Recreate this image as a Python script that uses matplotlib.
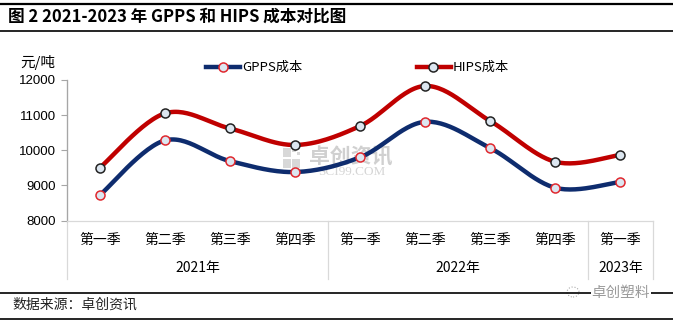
import numpy as np
import matplotlib
matplotlib.use("Agg")
import matplotlib.pyplot as plt
from matplotlib.lines import Line2D
from matplotlib.transforms import blended_transform_factory

plt.rcParams['font.family'] = ['Noto Sans CJK SC', 'DejaVu Sans']

# ---- data ----
quarters = ["第一季", "第二季", "第三季", "第四季",
            "第一季", "第二季", "第三季", "第四季", "第一季"]
years = ["2021年", "2022年", "2023年"]
year_spans = [4, 4, 1]
gpps_cost = [8720, 10280, 9690, 9380, 9800, 10810, 10060, 8930, 9100]
hips_cost = [9500, 11050, 10620, 10150, 10690, 11830, 10830, 9670, 9870]

W, H = 673, 322
fig = plt.figure(figsize=(W / 100, H / 100), dpi=100)
fig.patch.set_facecolor("white")

def fx(px):
    return px / W

def fy(py):
    return 1 - py / H

ax = fig.add_axes([fx(67.3), fy(220.5), fx(653) - fx(67.3), fy(80) - fy(220.5)])
ax.set_zorder(2)
ax.patch.set_alpha(0)
ax.set_xlim(-0.5, len(quarters) - 0.5)
ax.set_ylim(8000, 12000)


def smooth(xs, ys, sx=65.0, sy=0.035, n=30):
    """Catmull-Rom style Bezier smoothing computed in screen-like units."""
    P = np.column_stack([np.asarray(xs, float) * sx, np.asarray(ys, float) * sy])
    out = []
    for i in range(len(P) - 1):
        p0 = P[i - 1] if i > 0 else P[i]
        p1, p2 = P[i], P[i + 1]
        p3 = P[i + 2] if i + 2 < len(P) else P[i + 1]
        c1 = p1 + (p2 - p0) / 6.0
        c2 = p2 - (p3 - p1) / 6.0
        t = np.linspace(0, 1, n)[:, None]
        seg = ((1 - t) ** 3) * p1 + 3 * ((1 - t) ** 2) * t * c1 + 3 * (1 - t) * t ** 2 * c2 + t ** 3 * p2
        out.append(seg if i == 0 else seg[1:])
    pts = np.vstack(out)
    return pts[:, 0] / sx, pts[:, 1] / sy


x = np.arange(len(quarters))
gpps_color = "#0E2C6E"
hips_color = "#C00000"
marker_face = "#DCE6F0"

for vals, col, edge in [(hips_cost, hips_color, "#222222"), (gpps_cost, gpps_color, "#E0282E")]:
    sxv, syv = smooth(x, vals)
    ax.plot(sxv, syv, color=col, lw=3.2, solid_capstyle="round", zorder=3)
    ax.plot(x, vals, ls="none", marker="o", ms=6.5, mfc=marker_face, mec=edge, mew=1.1, zorder=4)

# axes styling
for s in ["top", "right"]:
    ax.spines[s].set_visible(False)
ax.spines["left"].set_color("#A6A6A6")
ax.spines["bottom"].set_color("#D9D9D9")
ax.spines["left"].set_linewidth(0.9)
ax.spines["bottom"].set_linewidth(0.9)
ax.set_yticks([8000, 9000, 10000, 11000, 12000])
ax.set_yticklabels(["8000", "9000", "10000", "11000", "12000"])
ax.tick_params(axis="y", direction="out", length=4, color="#A6A6A6", labelsize=9.5, pad=4)
ax.set_xticks([])
for lab in ax.get_yticklabels():
    lab.set_family(["Liberation Sans", "DejaVu Sans"])

# category and year labels under the axis
tr = blended_transform_factory(ax.transData, fig.transFigure)
for i, q in enumerate(quarters):
    fig.text(i, fy(240), q, transform=tr, ha="center", va="center", fontsize=10)
start = 0
for yr, span in zip(years, year_spans):
    fig.text(start + span / 2 - 0.5, fy(268), yr, transform=tr, ha="center", va="center", fontsize=10)
    start += span

# separators of the year groups
bounds = [-0.5]
for span in year_spans:
    bounds.append(bounds[-1] + span)
for b in bounds:
    top = fy(80) if b == -0.5 else fy(220.5)
    fig.add_artist(Line2D([b, b], [fy(279), top], transform=tr, color="#D9D9D9", lw=0.9))

# unit label
fig.text(fx(20), fy(62), "元/吨", ha="left", va="center", fontsize=10.5)

# legend
legend_items = [("GPPS成本", gpps_color, "#E0282E", 206, 240, 223),
                ("HIPS成本", hips_color, "#222222", 417, 451, 433)]
for name, col, edge, x0, x1, xm in legend_items:
    fig.add_artist(Line2D([fx(x0), fx(x1)], [fy(67), fy(67)], color=col, lw=3.2))
    fig.add_artist(Line2D([fx(xm)], [fy(67)], marker="o", ms=6.5, mfc=marker_face, mec=edge, mew=1.1))
    fig.text(fx(x1 + 2), fy(67), name, ha="left", va="center", fontsize=9.5)

# faint watermark in the plot area
fig.text(fx(351), fy(157), "卓创资讯", ha="center", va="center", fontsize=15, color="#D0D0D0",
         fontweight="bold", zorder=1)
fig.text(fx(352), fy(172), "SCI99.COM", ha="center", va="center", fontsize=9.5, color="#D5D5D5",
         family=["Liberation Serif", "DejaVu Serif"], zorder=1)
for (rx, ry, rw, rh) in [(283, 148, 8, 9), (292, 148, 4, 4), (297, 152, 3, 3),
                         (283, 159, 8, 9), (292, 159, 8, 9)]:
    fig.add_artist(plt.Rectangle((fx(rx), fy(ry + rh)), rw / W, rh / H, transform=fig.transFigure,
                                 facecolor="#D8D8D8", edgecolor="none", zorder=1))

# title block
fig.add_artist(Line2D([0, 1], [fy(4), fy(4)], color="black", lw=1.6))
fig.add_artist(Line2D([0, 1], [fy(31), fy(31)], color="black", lw=1.2))
fig.text(fx(8), fy(17), "图 2 2021-2023 年 GPPS 和 HIPS 成本对比图", ha="left", va="center",
         fontsize=12, fontweight="bold")

# source block
fig.add_artist(Line2D([0, 1], [fy(292.5), fy(292.5)], color="black", lw=1.2))
fig.add_artist(Line2D([0, 1], [fy(318.5), fy(318.5)], color="black", lw=1.2))
fig.text(fx(12), fy(305), "数据来源：卓创资讯", ha="left", va="center", fontsize=10, color="#222222")
fig.text(fx(621), fy(292.5), "卓创塑料", ha="center", va="center", fontsize=10.5, color="#9A9A9A",
         bbox=dict(facecolor="white", edgecolor="none", pad=0.5))
fig.add_artist(matplotlib.patches.Ellipse((fx(573), fy(292)), 12 / W, 10 / H, transform=fig.transFigure,
                                          facecolor="white", edgecolor="#AAAAAA", lw=0.8, ls=":"))

fig.savefig("out.png", dpi=100)
